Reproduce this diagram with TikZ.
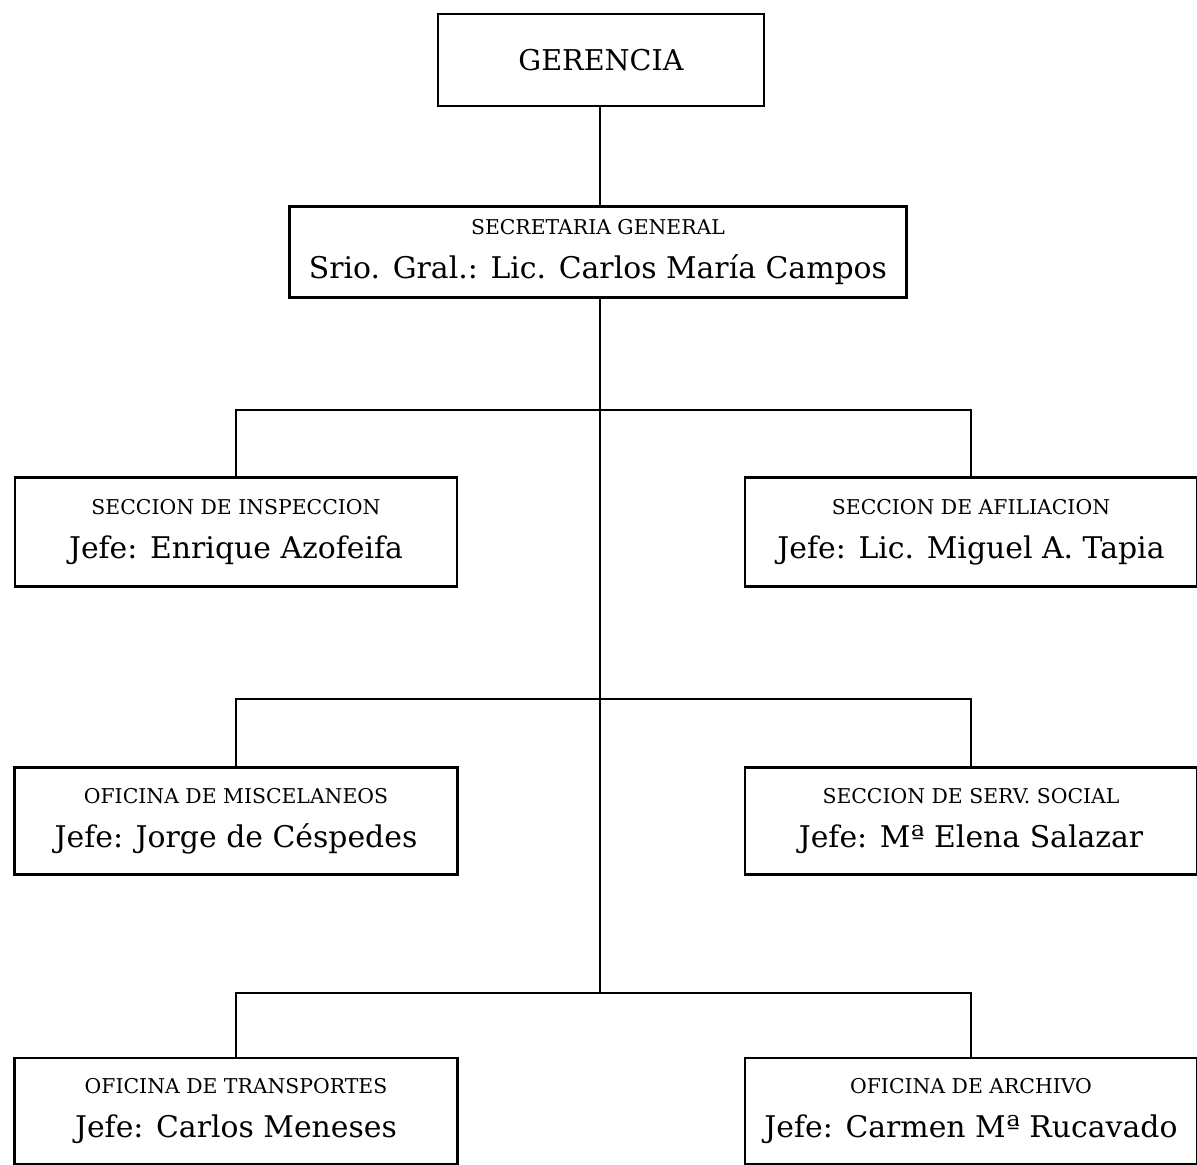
\documentclass[tikz,border=0pt]{standalone}
\usepackage{fontspec}
\setmainfont{DejaVu Serif}
\newcommand{\hdr}[1]{{\fontsize{11.6}{13}\selectfont #1}}
\tikzset{
    unitbox/.style={draw,line width=1.3pt,align=center,inner sep=0pt,
        font=\fontsize{17}{25}\selectfont},
    link/.style={line width=1.2pt}
}
\begin{document}
\begin{tikzpicture}[x=0.02cm,y=0.02cm]
                \useasboundingbox (0,0) rectangle (1197,-1164);
                \node[unitbox,minimum width=326*0.02cm,minimum height=92*0.02cm,
                    font=\fontsize{16.3}{20}\selectfont] (ger) at (601,-60) {GERENCIA};
                \node[unitbox,minimum width=617*0.02cm,minimum height=91*0.02cm] (sec) at (598,-252)
                    {\hdr{SECRETARIA GENERAL}\\Srio. Gral.: Lic. Carlos María Campos};
                % secciones
                \node[unitbox,minimum width=442*0.02cm,minimum height=109*0.02cm] (ins) at (236,-532)
                    {\hdr{SECCION DE INSPECCION}\\Jefe: Enrique Azofeifa};
                \node[unitbox,minimum width=452*0.02cm,minimum height=109*0.02cm] (afi) at (971,-532)
                    {\hdr{SECCION DE AFILIACION}\\Jefe: Lic. Miguel A. Tapia};
                \node[unitbox,minimum width=443*0.02cm,minimum height=107*0.02cm] (mis) at (236,-821)
                    {\hdr{OFICINA DE MISCELANEOS}\\Jefe: Jorge de Céspedes};
                \node[unitbox,minimum width=452*0.02cm,minimum height=107*0.02cm] (soc) at (971,-821)
                    {\hdr{SECCION DE SERV. SOCIAL}\\Jefe: Mª Elena Salazar};
                \node[unitbox,minimum width=443*0.02cm,minimum height=106*0.02cm] (tra) at (236,-1111)
                    {\hdr{OFICINA DE TRANSPORTES}\\Jefe: Carlos Meneses};
                \node[unitbox,minimum width=452*0.02cm,minimum height=106*0.02cm] (arc) at (971,-1111)
                    {\hdr{OFICINA DE ARCHIVO}\\Jefe: Carmen Mª Rucavado};
                % lineas
                \coordinate (j1) at (600,-410);
                \coordinate (j2) at (600,-699);
                \coordinate (j3) at (600,-993);
                \draw[link] (ger.south -| j1) -- (sec.north -| j1);
                \draw[link] (sec.south -| j1) -- (j3);
                \draw[link] (ins.north) |- (j1) -| (afi.north);
                \draw[link] (mis.north) |- (j2) -| (soc.north);
                \draw[link] (tra.north) |- (j3) -| (arc.north);
            \end{tikzpicture}
\end{document}
